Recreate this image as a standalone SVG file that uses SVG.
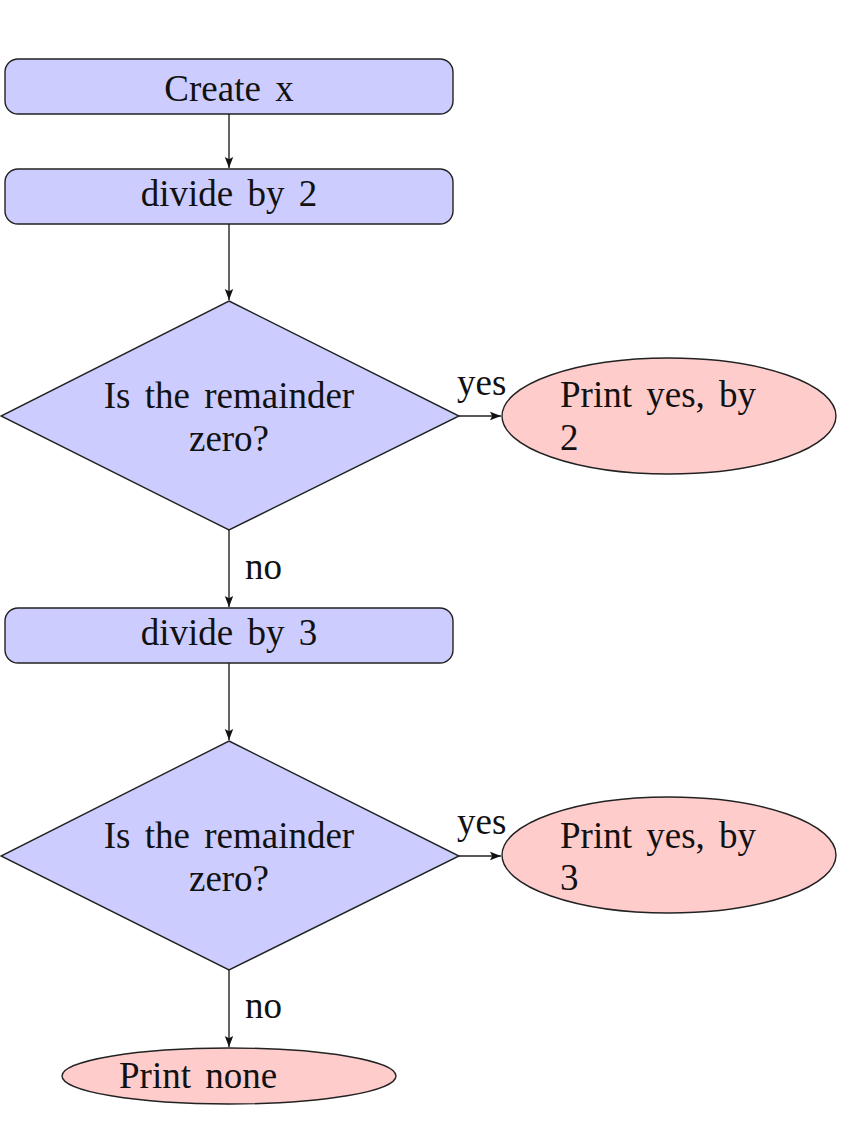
<svg xmlns="http://www.w3.org/2000/svg" width="864" height="1125" viewBox="0 0 864 1125">
<style>
  .blue { fill: #ccccff; stroke: #222; stroke-width: 1.4; }
  .pink { fill: #ffcccc; stroke: #222; stroke-width: 1.4; }
  text { font-family: "Liberation Serif", "Times New Roman", serif; font-size: 37px; fill: #111; word-spacing: 5px; }
  .c { text-anchor: middle; }
  .edge { stroke: #222; stroke-width: 1.4; fill: none; marker-end: url(#arr); }
</style>
<defs>
  <marker id="arr" viewBox="0 0 11 10" refX="11" refY="5" markerWidth="11" markerHeight="10" markerUnits="userSpaceOnUse" orient="auto">
    <path d="M0,0.8 L11,5 L0,9.2 L2.2,5 Z" fill="#111"/>
  </marker>
</defs>
<rect width="864" height="1125" fill="#fff"/>
<g id="connectors">
  <line class="edge" x1="229" y1="114" x2="229" y2="168"/>
  <line class="edge" x1="229" y1="224" x2="229" y2="300"/>
  <line class="edge" x1="459" y1="416" x2="501" y2="416"/>
  <line class="edge" x1="229" y1="530" x2="229" y2="607"/>
  <line class="edge" x1="229" y1="663" x2="229" y2="740"/>
  <line class="edge" x1="459" y1="856" x2="501" y2="856"/>
  <line class="edge" x1="229" y1="970" x2="229" y2="1047"/>
  <text x="457" y="395">yes</text>
  <text x="457" y="834">yes</text>
  <text x="245" y="579">no</text>
  <text x="245" y="1018">no</text>
</g>
<g id="create">
  <rect class="blue" x="5" y="59" width="448" height="55" rx="13"/>
  <text class="c" x="229" y="101">Create x</text>
</g>
<g id="div2">
  <rect class="blue" x="5" y="169" width="448" height="55" rx="13"/>
  <text class="c" x="229" y="206">divide by 2</text>
</g>
<g id="dec1">
  <polygon class="blue" points="229,301 459,416 229,530 1,416"/>
  <text class="c" x="229" y="408">Is the remainder</text>
  <text class="c" x="229" y="451">zero?</text>
</g>
<g id="yes2">
  <ellipse class="pink" cx="669" cy="416" rx="167" ry="58"/>
  <text x="560" y="407">Print yes, by</text>
  <text x="560" y="450">2</text>
</g>
<g id="div3">
  <rect class="blue" x="5" y="608" width="448" height="55" rx="13"/>
  <text class="c" x="229" y="645">divide by 3</text>
</g>
<g id="dec2">
  <polygon class="blue" points="229,741 459,856 229,970 1,856"/>
  <text class="c" x="229" y="848">Is the remainder</text>
  <text class="c" x="229" y="891">zero?</text>
</g>
<g id="yes3">
  <ellipse class="pink" cx="669" cy="855" rx="167" ry="58"/>
  <text x="560" y="848">Print yes, by</text>
  <text x="560" y="890">3</text>
</g>
<g id="none">
  <ellipse class="pink" cx="229" cy="1076" rx="167" ry="28"/>
  <text x="119" y="1088">Print none</text>
</g>
</svg>
